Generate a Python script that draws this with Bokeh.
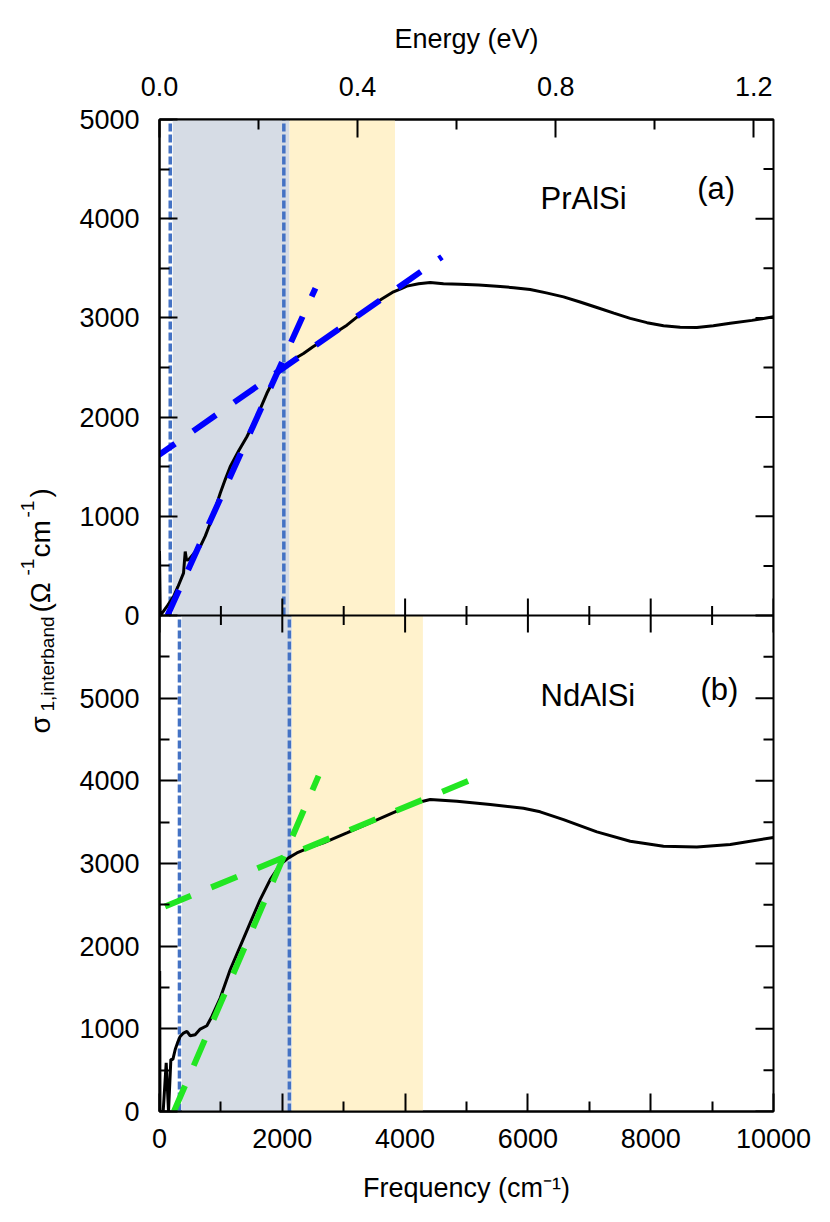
from bokeh.plotting import figure
from bokeh.models import (Range1d, LinearAxis, FixedTicker, PrintfTickFormatter, Label,
                          Span, Grid)
from bokeh.layouts import row
from bokeh.embed import file_html
from bokeh.resources import INLINE

FONT = "Liberation Sans"

# ---------------- data ----------------
# (a) PrAlSi : interband optical conductivity
freq_a = [0, 12, 60, 130, 228, 300, 391, 419, 440, 472, 560, 663, 745, 826, 908, 989,
          1070, 1151, 1290, 1423, 1586, 1749, 1857, 1940, 2020, 2180, 2345, 2500, 2671,
          2860, 3052, 3240, 3432, 3620, 3811, 3920, 4029, 4220, 4409, 4625, 4897, 5200,
          5495, 5770, 6037, 6300, 6580, 6850, 7124, 7400, 7666, 7940, 8209, 8480, 8752,
          9020, 9295, 9650, 10000]
sigma_a = [650, 0, 40, 100, 191, 290, 427, 645, 560, 561, 625, 695, 800, 930, 1080, 1232,
           1370, 1500, 1660, 1802, 2004, 2240, 2373, 2450, 2491, 2580, 2642, 2710, 2776,
           2850, 2927, 3020, 3112, 3190, 3263, 3290, 3320, 3345, 3357, 3345, 3340, 3332,
           3320, 3305, 3287, 3252, 3212, 3160, 3105, 3048, 2995, 2952, 2920, 2906, 2904,
           2920, 2945, 2975, 3011]

# (b) NdAlSi
freq_b = [0, 3, 8, 60, 109, 147, 185, 218, 256, 293, 337, 391, 446, 500, 581, 663, 771,
          853, 989, 1151, 1314, 1477, 1640, 1803, 1966, 2101, 2237, 2450, 2671, 3052,
          3485, 3920, 4192, 4409, 4844, 5386, 5928, 6200, 6580, 7124, 7666, 8208, 8752,
          9296, 10000]
sigma_b = [0, 1700, 0, 0, 590, 0, 630, 630, 750, 830, 908, 949, 969, 916, 929, 997, 1037,
           1150, 1373, 1715, 1998, 2281, 2563, 2805, 2987, 3068, 3128, 3195, 3249, 3370,
           3511, 3653, 3734, 3774, 3753, 3713, 3668, 3625, 3531, 3382, 3269, 3208, 3201,
           3229, 3315]

# linear fits (end points)
fit_a_steep_x = [130, 2540]
fit_a_steep_y = [0, 3300]
fit_a_flat_x = [-120, 4600]
fit_a_flat_y = [1570, 3615]
fit_b_steep_x = [235, 2590]
fit_b_steep_y = [0, 4060]
fit_b_flat_x = [90, 5280]
fit_b_flat_y = [2480, 4076]

# shaded frequency windows and vertical markers
shade_a_left = [215, 2117]
shade_a_right = [2117, 3835]
shade_b_left = [365, 2156]
shade_b_right = [2156, 4290]
shade_colors = ["#D6DCE5", "#FFF2CC"]
vlines_a = [175, 2025]
vlines_b = [325, 2115]

# ticks
freq_ticks = [0, 2000, 4000, 6000, 8000, 10000]
freq_minor = [1000, 3000, 5000, 7000, 9000]
energy_ticks = [0.0, 0.4, 0.8, 1.2]
energy_minor = [0.2, 0.6, 1.0]
sig_ticks_a = [0, 1000, 2000, 3000, 4000, 5000]
sig_minor_a = [500, 1500, 2500, 3500, 4500]
sig_ticks_b = [0, 1000, 2000, 3000, 4000, 5000]
sig_minor_b = [500, 1500, 2500, 3500, 4500, 5500]

X_MAX = 10000
YA_MAX = 5000      # panel (a) spans 0..5000 in the upper half
YB_MAX = 6000      # panel (b) spans 0..6000 in the lower half
CM_PER_EV = 8065.54

# ---------------- page geometry ----------------
LAB_W = 68                      # strip holding the rotated y title
FRAME_L = 159
FRAME_T = 119
FRAME_W = 614
PANEL_H = 496
MID_Y = FRAME_T + PANEL_H
FRAME_B = FRAME_T + 2 * PANEL_H
BOTTOM_B = 95


def px_to_x(px):
    return (px - FRAME_L) * X_MAX / FRAME_W


def py_to_ya(py):
    return (MID_Y - py) * YA_MAX / PANEL_H


def py_to_yb(py):
    return (FRAME_B - py) * YB_MAX / PANEL_H


def a_on_b(v):
    # position of a panel-(a) value on the shared left scale (panel (b) units)
    return int(round(YB_MAX + v * YB_MAX / YA_MAX))


p = figure(x_range=Range1d(0, X_MAX), y_range=Range1d(-YA_MAX, YA_MAX),
           frame_width=FRAME_W, frame_height=2 * PANEL_H,
           min_border_left=FRAME_L - LAB_W, min_border_right=40,
           min_border_top=FRAME_T, min_border_bottom=BOTTOM_B,
           x_axis_location=None, y_axis_location=None,
           toolbar_location=None, output_backend="svg",
           outline_line_color="black", outline_line_width=2,
           background_fill_color="white", border_fill_color="white")
p.extra_y_ranges = {"b": Range1d(0, 2 * YB_MAX)}
p.extra_x_ranges = {"energy": Range1d(0, X_MAX / CM_PER_EV)}
p.center = [r for r in p.center if not isinstance(r, Grid)]


def style_axis(ax, standoff):
    ax.axis_line_width = 2
    ax.axis_line_color = "black"
    ax.major_tick_line_width = 2
    ax.minor_tick_line_width = 2
    ax.major_tick_line_color = "black"
    ax.minor_tick_line_color = "black"
    ax.major_tick_in = 18
    ax.major_tick_out = 0
    ax.minor_tick_in = 10
    ax.minor_tick_out = 0
    ax.major_label_text_font = FONT
    ax.major_label_text_font_size = "27px"
    ax.major_label_text_color = "black"
    ax.major_label_standoff = standoff
    ax.axis_label_text_font = FONT
    ax.axis_label_text_font_size = "27px"
    ax.axis_label_text_font_style = "normal"
    ax.axis_label_text_color = "black"


# one left axis carrying the ticks of both panels
left_major = sig_ticks_b + [a_on_b(v) for v in sig_ticks_a]
left_minor = sig_minor_b + [a_on_b(v) for v in sig_minor_a]
left_labels = {v: str(v) for v in sig_ticks_b}
left_labels.update({a_on_b(v): str(v) for v in sig_ticks_a})
ax = LinearAxis(y_range_name="b",
                ticker=FixedTicker(ticks=left_major, minor_ticks=left_minor),
                major_label_overrides=left_labels)
style_axis(ax, 20)
p.add_layout(ax, "left")

# top energy axis
ax = LinearAxis(x_range_name="energy",
                ticker=FixedTicker(ticks=energy_ticks, minor_ticks=energy_minor),
                formatter=PrintfTickFormatter(format="%.1f"),
                axis_label="Energy (eV)")
style_axis(ax, 24)
ax.axis_label_standoff = 20
p.add_layout(ax, "above")

# bottom frequency axis
ax = LinearAxis(y_range_name="b",
                ticker=FixedTicker(ticks=freq_ticks, minor_ticks=freq_minor),
                axis_label="Frequency (cm\u207b\u00b9)")
style_axis(ax, 17)
ax.axis_label_standoff = 22
p.add_layout(ax, "below")

# ---------------- panel (a) glyphs ----------------
p.quad(left=shade_a_left, right=shade_a_right, bottom=0, top=YA_MAX,
       fill_color=shade_colors, line_color=None)
p.segment(x0=vlines_a, y0=0, x1=vlines_a, y1=YA_MAX,
          line_color="#4472C4", line_width=3.5, line_dash="8 3")
p.line(freq_a, sigma_a, line_color="black", line_width=3)
p.line(fit_a_steep_x, fit_a_steep_y, line_color="#0000FF", line_width=6, line_dash="28 22")
p.line(fit_a_flat_x, fit_a_flat_y, line_color="#0000FF", line_width=6, line_dash="28 22")

# ---------------- panel (b) glyphs ----------------
p.quad(left=shade_b_left, right=shade_b_right, bottom=0, top=YB_MAX,
       fill_color=shade_colors, line_color=None, y_range_name="b")
p.segment(x0=vlines_b, y0=0, x1=vlines_b, y1=YB_MAX,
          line_color="#4472C4", line_width=3.5, line_dash="8 3", y_range_name="b")
p.line(freq_b, sigma_b, line_color="black", line_width=3, y_range_name="b")
p.line(fit_b_steep_x, fit_b_steep_y, line_color="#22E622", line_width=6,
       line_dash="28 22", y_range_name="b")
p.line(fit_b_flat_x, fit_b_flat_y, line_color="#22E622", line_width=6,
       line_dash="28 22", y_range_name="b")

# ---------------- inner tick marks (right edge and panel divider) ----------------
p.scatter(x=[X_MAX] * len(sig_ticks_a), y=sig_ticks_a, marker="dash", size=36,
          line_color="black", line_width=2)
p.scatter(x=[X_MAX] * len(sig_minor_a), y=sig_minor_a, marker="dash", size=20,
          line_color="black", line_width=2)
p.scatter(x=[X_MAX] * len(sig_ticks_b), y=sig_ticks_b, marker="dash", size=36,
          line_color="black", line_width=2, y_range_name="b")
p.scatter(x=[X_MAX] * len(sig_minor_b), y=sig_minor_b, marker="dash", size=20,
          line_color="black", line_width=2, y_range_name="b")
p.scatter(x=freq_ticks, y=[0] * len(freq_ticks), marker="dash", size=34, angle=90,
          angle_units="deg", line_color="black", line_width=2)
p.scatter(x=freq_minor, y=[0] * len(freq_minor), marker="dash", size=19, angle=90,
          angle_units="deg", line_color="black", line_width=2)
p.add_layout(Span(location=0, dimension="width", line_color="black", line_width=2))


# ---------------- panel texts ----------------
def add_text(txt, x, y, size, rng="default"):
    p.add_layout(Label(x=x, y=y, text=txt, text_font=FONT, text_font_size=size,
                       text_color="black", text_baseline="alphabetic",
                       y_range_name=rng))


add_text("PrAlSi", px_to_x(540), py_to_ya(197.7), "31px")
add_text("(a)", px_to_x(696.7), py_to_ya(187.7), "31px")
add_text("NdAlSi", px_to_x(540), py_to_yb(695), "31px", "b")
add_text("(b)", px_to_x(700), py_to_yb(689.3), "31px", "b")

# ---------------- rotated y-axis title in its own strip ----------------
# the strip's frame is aligned with the plot frame (same top/bottom borders)
lab = figure(x_range=Range1d(0, LAB_W), y_range=Range1d(0, 2 * PANEL_H),
             frame_width=LAB_W, frame_height=2 * PANEL_H,
             min_border_left=0, min_border_right=0,
             min_border_top=FRAME_T, min_border_bottom=BOTTOM_B,
             x_axis_location=None, y_axis_location=None, toolbar_location=None,
             output_backend="svg", outline_line_color=None,
             background_fill_color="white", border_fill_color="white")
lab.center = [r for r in lab.center if not isinstance(r, Grid)]

# (text, start along the page, baseline x on the page, font size)
ylabel_parts = [
    ("\u03c3", 733, 50, 28),
    ("1,interband", 711, 53.5, 19),
    ("(\u03a9", 612, 50, 28),
    ("-1", 575, 33.5, 19),
    ("cm", 557, 50, 28),
    ("-1", 517, 33.5, 19),
    (")", 497, 50, 28),
]
MID_OFFSET = 0.3465   # (ascent - descent) / 2 of Liberation Sans, in em
for txt, py, px, fs in ylabel_parts:
    lab.add_layout(Label(x=px - MID_OFFSET * fs, y=FRAME_B - py, text=txt,
                         angle=90, angle_units="deg",
                         text_font=FONT, text_font_size=f"{fs}px", text_color="black",
                         text_align="left", text_baseline="middle"))

layout = row(lab, p)

with open("out.html", "w") as f:
    f.write(file_html(layout, INLINE))
